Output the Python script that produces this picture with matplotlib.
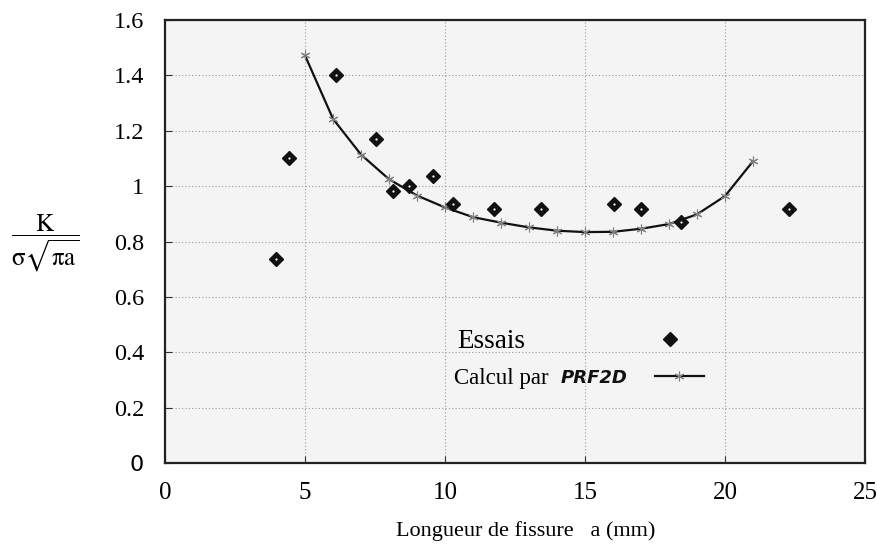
import matplotlib
matplotlib.use("Agg")
import matplotlib.pyplot as plt

# Data
essais_a = [3.95, 4.42, 6.1, 7.54, 8.14, 8.73, 9.56, 10.29, 11.74, 13.42, 16.05, 17.0, 18.44, 22.27]
essais_k = [0.736, 1.101, 1.402, 1.169, 0.984, 1.002, 1.035, 0.936, 0.917, 0.917, 0.935, 0.918, 0.869, 0.918]
calc_a = [5, 6, 7, 8, 9, 10, 11, 12, 13, 14, 15, 16, 17, 18, 19, 20, 21]
calc_k = [1.472, 1.243, 1.114, 1.025, 0.966, 0.923, 0.888, 0.868, 0.851, 0.839, 0.834, 0.835, 0.846, 0.863, 0.898, 0.964, 1.09]
xticks = [0, 5, 10, 15, 20, 25]
yticks = [0, 0.2, 0.4, 0.6, 0.8, 1.0, 1.2, 1.4, 1.6]
ytick_labels = ["0", "0.2", "0.4", "0.6", "0.8", "1", "1.2", "1.4", "1.6"]

plt.rcParams['font.family'] = ['Liberation Serif', 'DejaVu Serif']

fig = plt.figure(figsize=(8.77, 5.49), dpi=100)
ax = fig.add_axes([165/877, 1-463/549, 700/877, 443/549])
ax.set_facecolor('#f4f4f4')

line_calc, = ax.plot(calc_a, calc_k, color='#111111', lw=1.6, marker=(6, 2, 0), ms=7,
                     mec='#808080', mew=0.8, zorder=3)
pts, = ax.plot(essais_a, essais_k, ls='none', marker='D', ms=7.2, mfc='#111111',
               mec='#111111', zorder=4)
ax.plot(essais_a, essais_k, ls='none', marker='o', ms=1.6, mfc='white', mec='none', zorder=5)

ax.set_xlim(0, 25)
ax.set_ylim(0, 1.6)
ax.set_xticks(xticks)
ax.set_yticks(yticks)
ax.set_xticklabels([str(t) for t in xticks], fontsize=18)
ax.set_yticklabels(ytick_labels, fontsize=17.5)
ylabs = ax.get_yticklabels()
ylabs[0].set_fontfamily('DejaVu Sans')
ylabs[0].set_fontsize(16)
ax.tick_params(axis='y', direction='in', length=5, pad=15, color='#333333')
ax.tick_params(axis='x', direction='in', length=5, pad=14, color='#333333')
ax.grid(True, ls=(0, (1, 2)), color='#999999', lw=0.8)
for s in ax.spines.values():
    s.set_color('#222222')
    s.set_linewidth(1.6)

# Legend entry 1: Essais
fs1 = 19.5
fs1px = fs1 * 100 / 72
leg1 = ax.legend([pts], ["Essais"], loc='center left',
                 bbox_to_anchor=((457-165)/700, (463-342)/443), frameon=False,
                 borderpad=0, borderaxespad=0, markerfirst=False,
                 handlelength=2.0, handletextpad=(145 - fs1px)/fs1px, fontsize=fs1)
ax.add_artist(leg1)

# Legend entry 2: Calcul par PRF2D
fs2 = 16.5
fs2px = fs2 * 100 / 72
leg2 = ax.legend([line_calc], ["Calcul par"], loc='center left',
                 bbox_to_anchor=((454-165)/700, (463-378)/443), frameon=False,
                 borderpad=0, borderaxespad=0, markerfirst=False,
                 handlelength=49/fs2px, handletextpad=106/fs2px, fontsize=fs2)
ax.text((561-165)/700, (463-378)/443, "PRF2D", transform=ax.transAxes,
        fontfamily='DejaVu Sans', fontweight='bold', fontstyle='italic',
        fontsize=13, ha='left', va='center', color='#111111')

ax.set_xlabel("Longueur de fissure   a (mm)", fontsize=16)
ax.xaxis.set_label_coords((526-165)/700, -(531-463)/443)
ax.xaxis.label.set_va('center')

fig.text(45/877, 1-243/549, r"$\dfrac{\mathrm{K}}{\mathrm{\sigma}\sqrt{\mathrm{\pi} \mathrm{a}}}$",
         fontsize=18, ha='center', va='center', math_fontfamily='stix')

fig.savefig("out.png", dpi=100)
